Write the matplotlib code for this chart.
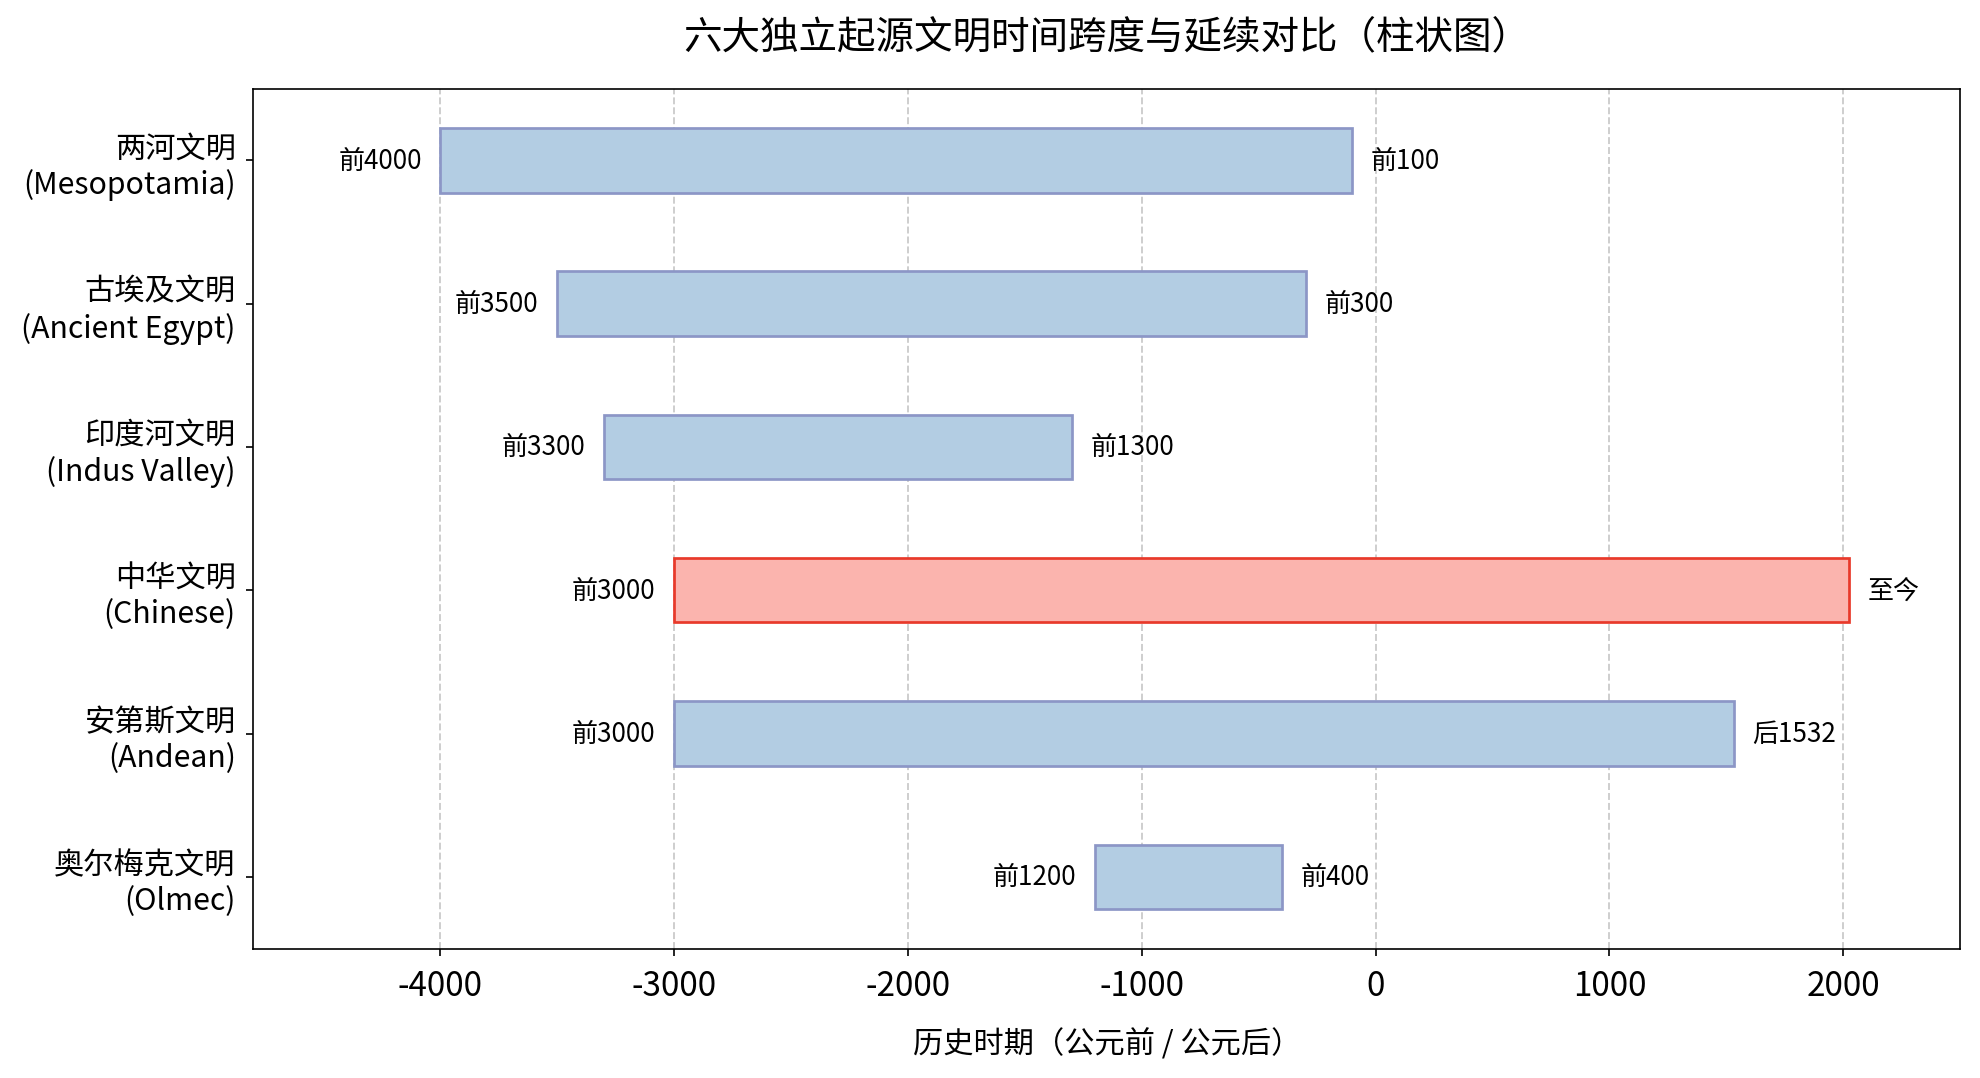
import matplotlib
matplotlib.use('Agg')
import matplotlib.pyplot as plt

plt.rcParams['font.family'] = ['Noto Sans CJK SC', 'DejaVu Sans']
plt.rcParams['axes.unicode_minus'] = False

# data
civs = ['两河文明\n(Mesopotamia)', '古埃及文明\n(Ancient Egypt)', '印度河文明\n(Indus Valley)',
        '中华文明\n(Chinese)', '安第斯文明\n(Andean)', '奥尔梅克文明\n(Olmec)']
start_year = [-4000, -3500, -3300, -3000, -3000, -1200]
end_year = [-100, -300, -1300, 2025, 1532, -400]
start_text = ['前4000', '前3500', '前3300', '前3000', '前3000', '前1200']
end_text = ['前100', '前300', '前1300', '至今', '后1532', '前400']
highlight = [False, False, False, True, False, False]

fig = plt.figure(figsize=(13.2, 7.193), dpi=150)
ax = fig.add_axes([0.128, 0.120, 0.862, 0.797])

y = list(range(len(civs)))
widths = [e - s for s, e in zip(start_year, end_year)]
fills = ['#fbb4ae' if h else '#b3cde3' for h in highlight]
edges = ['#e8392a' if h else '#8c96c6' for h in highlight]

ax.barh(y, widths, left=start_year, height=0.45, color=fills, edgecolor=edges,
        linewidth=1.3, zorder=3)

for i in y:
    ax.annotate(start_text[i], (start_year[i], i), xytext=(-9, 0), textcoords='offset points',
                ha='right', va='center', fontsize=12.5)
    ax.annotate(end_text[i], (end_year[i], i), xytext=(9, 0), textcoords='offset points',
                ha='left', va='center', fontsize=12.5)

ax.set_yticks(y)
ax.set_yticklabels(civs, fontsize=14.5)
ax.tick_params(axis='y', pad=5)
ax.set_ylim(len(civs) - 0.5, -0.5)
ax.set_xlim(-4800, 2500)
ax.set_xticks([-4000, -3000, -2000, -1000, 0, 1000, 2000])
ax.tick_params(axis='x', labelsize=16, pad=6)
ax.grid(axis='x', linestyle='--', color='#cccccc', linewidth=0.9, zorder=0)
ax.set_axisbelow(True)

ax.set_xlabel('历史时期（公元前 / 公元后）', fontsize=14.5, labelpad=12)
ax.set_title('六大独立起源文明时间跨度与延续对比（柱状图）', fontsize=18.5, pad=20)

fig.savefig('out.png', dpi=150)
